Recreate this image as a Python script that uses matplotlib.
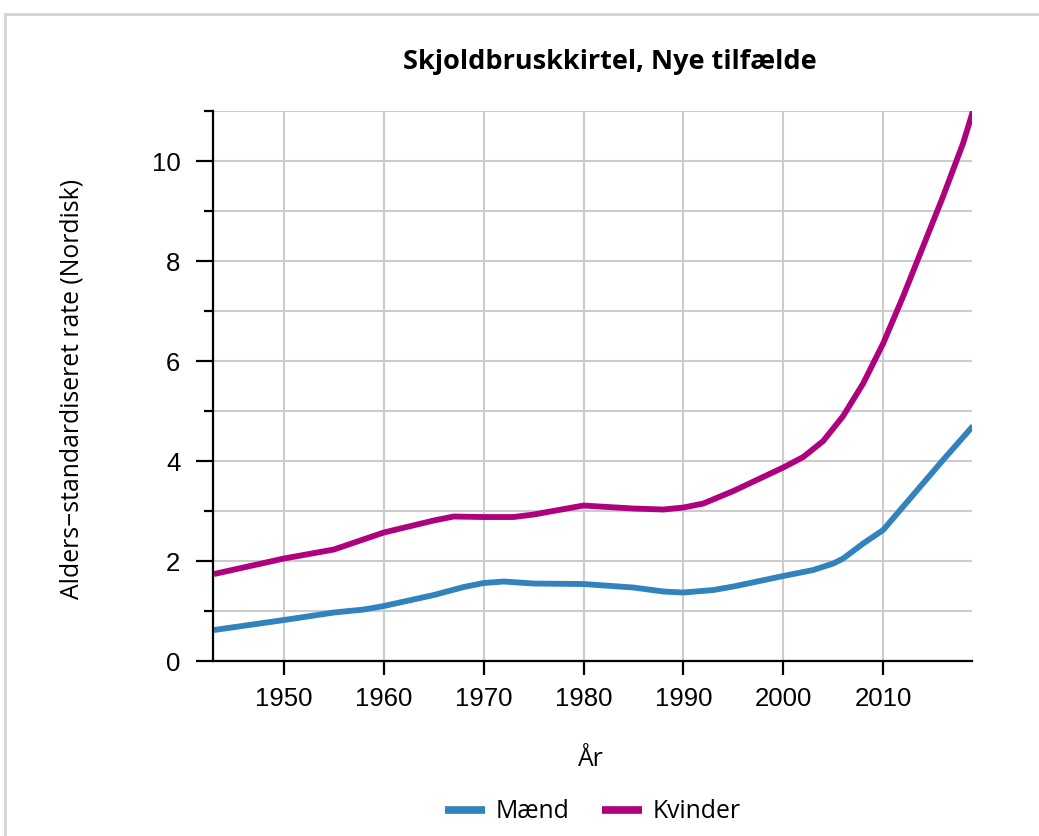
import matplotlib.pyplot as plt
from matplotlib.patches import Rectangle
from matplotlib.ticker import MultipleLocator

# values
years_m = [1943, 1950, 1955, 1958, 1960, 1965, 1968, 1970, 1972, 1975, 1980, 1985,
           1988, 1990, 1993, 1995, 2000, 2003, 2005, 2006, 2008, 2010, 2013, 2016,
           2019]
maend = [0.62, 0.82, 0.97, 1.03, 1.10, 1.32, 1.48, 1.56, 1.59, 1.55, 1.54, 1.47,
         1.39, 1.37, 1.42, 1.49, 1.70, 1.82, 1.95, 2.05, 2.35, 2.62, 3.32, 4.02,
         4.70]

years_k = [1943, 1950, 1955, 1960, 1965, 1967, 1970, 1973, 1975, 1980, 1985, 1988,
           1990, 1992, 1995, 2000, 2002, 2004, 2006, 2008, 2010, 2012, 2014, 2016,
           2018, 2019]
kvinder = [1.74, 2.05, 2.23, 2.57, 2.81, 2.89, 2.88, 2.88, 2.93, 3.11, 3.05, 3.03,
           3.07, 3.15, 3.40, 3.87, 4.08, 4.40, 4.90, 5.55, 6.35, 7.29, 8.29, 9.29,
           10.35, 11.0]

xticks = [1950, 1960, 1970, 1980, 1990, 2000, 2010]
yticks = [0, 2, 4, 6, 8, 10]

title = 'Skjoldbruskkirtel, Nye tilfælde'
xlab = 'År'
ylab = 'Alders\u2212standardiseret rate (Nordisk)'

text_font = ['Open Sans', 'DejaVu Sans']
tick_font = ['Liberation Sans', 'DejaVu Sans']

fig = plt.figure(figsize=(10.39, 8.36), dpi=100)
ax = fig.add_axes([0.205, 0.2093, 0.7305, 0.6579])

# light frame around the chart
fig.patches.append(Rectangle((5 / 1039, -0.1), 1.2, 1 - 14 / 836 + 0.1,
                             transform=fig.transFigure, fill=False,
                             edgecolor='#d3d3d3', linewidth=2, zorder=0))

ax.plot(years_m, maend, '-', color='#3182bd', linewidth=4.2, label='Mænd',
        solid_capstyle='butt', solid_joinstyle='round')
ax.plot(years_k, kvinder, '-', color='#ae017e', linewidth=4.2, label='Kvinder',
        solid_capstyle='butt', solid_joinstyle='round')

ax.set_xlim(1942.9, 2018.9)
ax.set_ylim(0, 11)
ax.set_xticks(xticks)
ax.set_yticks(yticks)
ax.yaxis.set_minor_locator(MultipleLocator(1))
ax.grid(True, which='both', color='#cccccc', linewidth=1.5)
ax.set_axisbelow(True)

for s in ['top', 'right']:
    ax.spines[s].set_visible(False)
for s in ['left', 'bottom']:
    ax.spines[s].set_linewidth(1.6)

ax.tick_params(axis='x', length=10, width=1.6, pad=9, labelsize=18.5)
ax.tick_params(axis='y', which='major', length=12.5, width=1.6, pad=11, labelsize=18.5)
ax.tick_params(axis='y', which='minor', length=6.5, width=1.6)
for lab in ax.get_xticklabels() + ax.get_yticklabels():
    lab.set_family(tick_font)

fig.text(610 / 1039, 1 - 62 / 836, title, ha='center', va='center',
         fontsize=19.5, fontweight='bold', family=text_font)
fig.text(591 / 1039, 1 - 760 / 836, xlab, ha='center', va='center',
         fontsize=17.8, family=text_font)
fig.text(72 / 1039, 1 - 389 / 836, ylab, ha='center', va='center',
         rotation=90, fontsize=17.8, family=text_font)

leg = fig.legend(loc='center', bbox_to_anchor=(593 / 1039, 1 - 812 / 836), ncol=2,
                 frameon=False, prop={'family': text_font, 'size': 17.8},
                 handlelength=1.6, handletextpad=0.45, columnspacing=1.3)
for h in leg.get_lines():
    h.set_linewidth(5.5)

fig.savefig('out.png', dpi=100)
